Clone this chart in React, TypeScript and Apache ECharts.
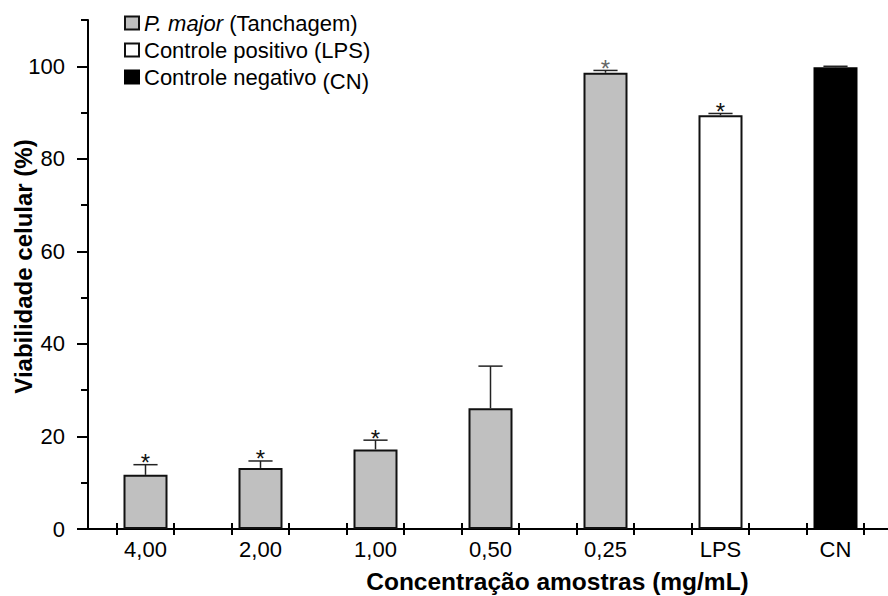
import React, { useEffect, useRef } from 'react';
import * as echarts from 'echarts';

const categories = ['4,00', '2,00', '1,00', '0,50', '0,25', 'LPS', 'CN'];
const seriesNames = ['P. major (Tanchagem)', 'Controle positivo (LPS)', 'Controle negativo (CN)'];
const pMajorValues = [11.7, 13.2, 17.2, 26.1, 98.6, null, null];
const lpsValues = [null, null, null, null, null, 89.4, null];
const cnValues = [null, null, null, null, null, null, 99.8];
const errorValues = [2.2, 1.5, 2.0, 9.1, 0.5, 0.4, 0.2];
const significant = [true, true, true, false, true, true, false];
const yMin = 0;
const yMax = 110;
const yMajor = 20;
const yMinor = 10;

const FONT = '"Liberation Sans", Arial, Helvetica, sans-serif';

export default function App() {
  const ref = useRef<HTMLDivElement>(null);
  useEffect(() => {
    if (!ref.current) return;
    const chart = echarts.init(ref.current, undefined, { renderer: 'svg' });
    const means = categories.map((_, i) => pMajorValues[i] ?? lpsValues[i] ?? cnValues[i] ?? 0);
    const errData = categories.map((_, i) => [i, means[i], errorValues[i], significant[i] ? 1 : 0]);
    const toSeries = (arr: (number | null)[]) => arr.map((v) => (v == null ? '-' : v));

    const barBase = {
      type: 'bar',
      barWidth: 44,
      barGap: '-100%',
      z: 2,
    };

    chart.setOption({
      animation: false,
      textStyle: { fontFamily: FONT },
      grid: { left: 88, top: 20, bottom: 67, right: -5, containLabel: false, outerBoundsMode: 'none' },
      legend: {
        orient: 'vertical',
        left: 119,
        top: 7,
        itemWidth: 14,
        itemHeight: 13,
        itemGap: 5,
        icon: 'rect',
        data: seriesNames,
        textStyle: {
          fontSize: 22,
          color: '#000',
          fontFamily: FONT,
          rich: {
            it: { fontStyle: 'italic', fontSize: 22, fontFamily: FONT, color: '#000' },
            n: { fontSize: 22, fontFamily: FONT, color: '#000' },
            low: { fontSize: 22, fontFamily: FONT, color: '#000', verticalAlign: 'bottom', lineHeight: 30 },
          },
        },
        formatter: (name: string) => {
          if (name === seriesNames[0]) return '{it|P. major} {n|(Tanchagem)}';
          if (name === seriesNames[2]) return '{n|Controle negativo }{low|(CN)}';
          return '{n|' + name + '}';
        },
      },
      xAxis: {
        type: 'category',
        data: categories,
        axisLine: { show: true, lineStyle: { color: '#000', width: 2 } },
        axisTick: { show: false },
        axisLabel: { fontSize: 22, color: '#000', margin: 9, fontFamily: FONT },
        name: 'Concentração amostras (mg/mL)',
        nameLocation: 'middle',
        nameGap: 40,
        nameMoveOverlap: false,
        nameTextStyle: {
          fontSize: 24.5,
          fontWeight: 'bold',
          color: '#000',
          fontFamily: FONT,
          padding: [0, 0, 0, 134],
        },
        splitLine: { show: false },
      },
      yAxis: [
        {
          type: 'value',
          position: 'left',
          min: yMin,
          max: yMax,
          interval: yMajor,
          axisLine: { show: true, lineStyle: { color: '#000', width: 2 } },
          axisTick: { show: true, length: 11, lineStyle: { color: '#000', width: 2 } },
          axisLabel: { fontSize: 22, color: '#000', margin: 23, showMaxLabel: false, fontFamily: FONT },
          splitLine: { show: false },
          name: 'Viabilidade celular (%)',
          nameLocation: 'middle',
          nameRotate: 90,
          nameGap: 53,
          nameMoveOverlap: false,
          nameTextStyle: {
            fontSize: 24,
            fontWeight: 'bold',
            color: '#000',
            fontFamily: FONT,
            padding: [0, 0, 0, 16],
          },
        },
        {
          type: 'value',
          position: 'left',
          min: yMin,
          max: yMax,
          interval: yMinor,
          axisLine: { show: false },
          axisTick: { show: true, length: 7, lineStyle: { color: '#000', width: 2 } },
          axisLabel: { show: false },
          splitLine: { show: false },
        },
      ],
      graphic: [
        {
          type: 'line',
          shape: { x1: 77, y1: 529, x2: 89, y2: 529 },
          style: { stroke: '#000', lineWidth: 2 },
          z: 10,
        },
      ],
      series: [
        {
          ...barBase,
          name: seriesNames[0],
          data: toSeries(pMajorValues),
          itemStyle: { color: '#c0c0c0', borderColor: '#111', borderWidth: 2 },
        },
        {
          ...barBase,
          name: seriesNames[1],
          data: toSeries(lpsValues),
          itemStyle: { color: '#ffffff', borderColor: '#111', borderWidth: 2 },
        },
        {
          ...barBase,
          name: seriesNames[2],
          data: toSeries(cnValues),
          itemStyle: { color: '#000000', borderColor: '#000', borderWidth: 2 },
        },
        {
          type: 'custom',
          name: 'err',
          z: 5,
          clip: false,
          data: errData,
          encode: { x: 0, y: 1 },
          renderItem: (params: any, api: any) => {
            const i = api.value(0);
            const m = api.value(1);
            const e = api.value(2);
            const sig = api.value(3);
            const base = api.coord([i, m]);
            const top = api.coord([i, m + e]);
            const zero = api.coord([i, 0]);
            const band = api.size([1, 0])[0];
            const capHalf = band * 0.105;
            const tickOff = band * 0.248;
            const children: any[] = [
              {
                type: 'line',
                shape: { x1: base[0], y1: base[1], x2: top[0], y2: top[1] },
                style: { stroke: '#222', lineWidth: 1.5 },
              },
              {
                type: 'line',
                shape: { x1: top[0] - capHalf, y1: top[1], x2: top[0] + capHalf, y2: top[1] },
                style: { stroke: '#222', lineWidth: 1.5 },
              },
              {
                type: 'line',
                shape: { x1: zero[0] - tickOff, y1: zero[1] - 6, x2: zero[0] - tickOff, y2: zero[1] + 6 },
                style: { stroke: '#000', lineWidth: 2 },
              },
              {
                type: 'line',
                shape: { x1: zero[0] + tickOff, y1: zero[1] - 6, x2: zero[0] + tickOff, y2: zero[1] + 6 },
                style: { stroke: '#000', lineWidth: 2 },
              },
            ];
            if (sig) {
              children.push({
                type: 'text',
                style: {
                  text: '*',
                  x: top[0],
                  y: top[1] - 2,
                  align: 'center',
                  verticalAlign: 'middle',
                  fontSize: 24,
                  fontFamily: FONT,
                  fill: i === 4 ? '#666' : '#111',
                },
              });
            }
            return { type: 'group', children };
          },
        },
      ],
    });
    return () => chart.dispose();
  }, []);
  return (
    <div
      ref={ref}
      style={{ position: 'absolute', left: 0, top: 0, width: 888, height: 596, background: '#fff' }}
    />
  );
}
